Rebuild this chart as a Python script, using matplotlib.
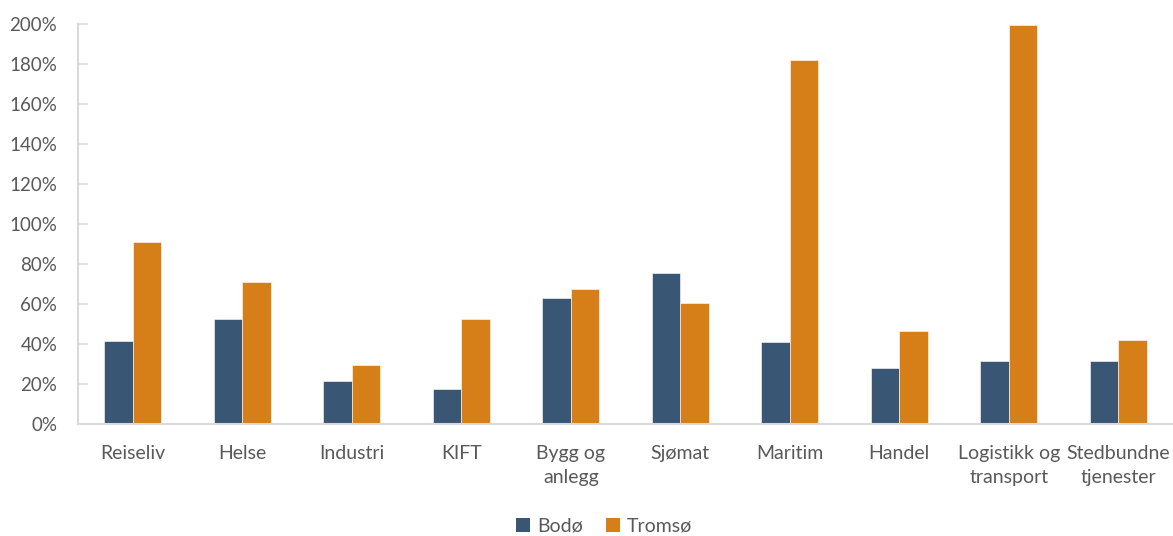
import matplotlib
matplotlib.use("Agg")
import matplotlib.pyplot as plt
from matplotlib.patches import Patch
from matplotlib.ticker import FuncFormatter, MultipleLocator
import numpy as np

categories = ["Reiseliv", "Helse", "Industri", "KIFT", "Bygg og\nanlegg", "Sjømat",
              "Maritim", "Handel", "Logistikk og\ntransport", "Stedbundne\ntjenester"]
bodo = [41.7, 52.3, 21.3, 17.5, 62.8, 75.5, 41.2, 28.0, 31.5, 31.5]
tromso = [90.8, 71.0, 29.3, 52.5, 67.5, 60.3, 181.8, 46.3, 199.5, 42.2]
series_names = ["Bodø", "Tromsø"]
colors = ["#3A5675", "#D67E17"]

text_color = "#595959"
axis_color = "#D9D9D9"
plt.rcParams["font.family"] = ["Lato", "DejaVu Sans"]

fig = plt.figure(figsize=(11.73, 5.36), dpi=100)
ax = fig.add_axes([78 / 1173, 1 - 424 / 536, 1 - 78 / 1173, 400 / 536])

x = np.arange(len(categories))
w = 0.262
ax.bar(x - w / 2, bodo, w, color=colors[0], edgecolor="#ffffff", linewidth=0.4)
ax.bar(x + w / 2, tromso, w, color=colors[1], edgecolor="#ffffff", linewidth=0.4)

ax.set_xlim(-0.5, len(categories) - 0.5)
ax.set_ylim(0, 200)
ax.yaxis.set_major_locator(MultipleLocator(20))
ax.yaxis.set_major_formatter(FuncFormatter(lambda v, p: f"{v:.0f}%"))

for s in ["top", "right"]:
    ax.spines[s].set_visible(False)
for s in ["left", "bottom"]:
    ax.spines[s].set_color(axis_color)
    ax.spines[s].set_linewidth(1.5)

ax.tick_params(axis="y", direction="in", length=7, width=1.2, color=axis_color,
               labelsize=13.5, labelcolor=text_color, pad=15)
ax.tick_params(axis="x", length=0, labelsize=14, labelcolor=text_color, pad=15)
ax.set_xticks(x)
ax.set_xticklabels(categories, linespacing=1.5)

handles = [Patch(facecolor=c, edgecolor="none") for c in colors]
fig.legend(handles, series_names, loc="center", bbox_to_anchor=(604 / 1173, 1 - 526 / 536),
           ncol=2, frameon=False, fontsize=14, labelcolor=text_color,
           handlelength=0.7, handleheight=0.7, handletextpad=0.35, columnspacing=1.2)

fig.savefig("out.png", dpi=100, facecolor="white")
